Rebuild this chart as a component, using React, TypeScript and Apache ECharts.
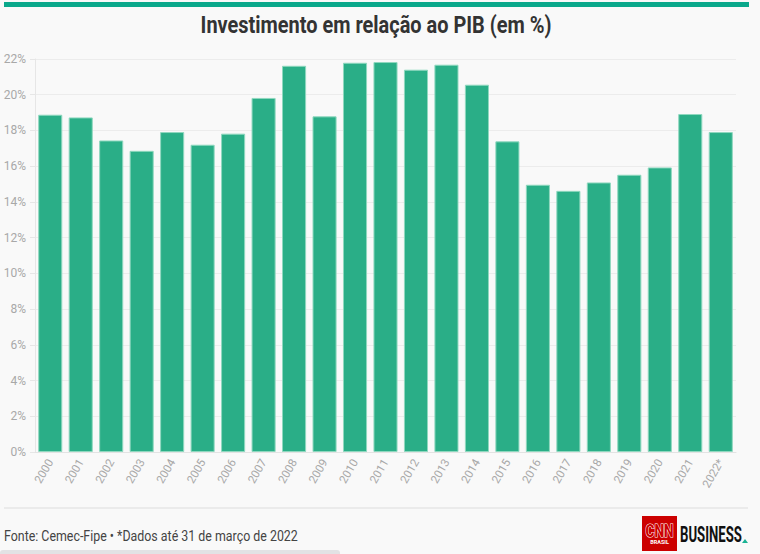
import React, { useEffect, useRef } from "react";
import * as echarts from "echarts";

const years = ["2000","2001","2002","2003","2004","2005","2006","2007","2008","2009","2010","2011","2012","2013","2014","2015","2016","2017","2018","2019","2020","2021","2022*"];
const investment = [18.88,18.73,17.44,16.86,17.91,17.2,17.82,19.82,21.62,18.79,21.79,21.83,21.4,21.68,20.56,17.39,14.96,14.62,15.09,15.52,15.93,18.92,17.91];
const yTicks = { min: 0, max: 22, interval: 2 };
const title = "Investimento em relação ao PIB (em %)";
const footnote = "Fonte: Cemec-Fipe • *Dados até 31 de março de 2022";

function measure(text: string, font: string): number {
  const ctx = document.createElement("canvas").getContext("2d");
  if (!ctx) return 1;
  ctx.font = font;
  return ctx.measureText(text).width || 1;
}

export default function App() {
  const ref = useRef<HTMLDivElement>(null);
  useEffect(() => {
    if (!ref.current) return;
    const chart = echarts.init(ref.current, null, { renderer: "svg" });
    const titleFont = "bold 23px Roboto";
    const footFont = "14px Roboto";
    const bizFont = "bold 22px Roboto";
    const cnnFont = "bold 18px Roboto";
    const titleScale = 351 / measure(title, titleFont);
    const footScale = 294 / measure(footnote, footFont);
    const bizScale = 62 / measure("BUSINESS", bizFont);
    const cnnScale = 28 / measure("CNN", cnnFont);
    chart.setOption({
      animation: false,
      backgroundColor: "#f9f9f9",
      grid: { left: 35, right: 24, top: 59, bottom: 102 },
      xAxis: {
        type: "category",
        data: years,
        axisLine: { lineStyle: { color: "#e3e3e3" } },
        axisTick: { alignWithLabel: true, length: 5, lineStyle: { color: "#e3e3e3" } },
        axisLabel: { rotate: 60, color: "#a8a8a8", fontSize: 11.5, fontFamily: "Roboto", margin: 8 },
      },
      yAxis: {
        type: "value",
        min: yTicks.min,
        max: yTicks.max,
        interval: yTicks.interval,
        axisLine: { show: true, lineStyle: { color: "#e6e6e6" } },
        axisTick: { show: true, length: 5, lineStyle: { color: "#e6e6e6" } },
        axisLabel: { formatter: "{value}%", color: "#a8a8a8", fontSize: 12, fontFamily: "Roboto", margin: 9 },
        splitLine: { lineStyle: { color: "#ececec" } },
      },
      series: [
        {
          type: "bar",
          data: investment,
          barCategoryGap: "21%",
          itemStyle: { color: "#2aae87", borderColor: "#8fd8bf", borderWidth: 1 },
        },
      ],
      graphic: [
        { type: "rect", shape: { x: 4, y: 2, width: 745, height: 5 }, style: { fill: "#0aa88b" } },
        {
          type: "text", x: 376, y: 25, scaleX: titleScale,
          style: { text: title, fill: "#333333", font: titleFont, align: "center", verticalAlign: "middle" },
        },
        { type: "line", shape: { x1: 4, y1: 508, x2: 748, y2: 508 }, style: { stroke: "#dddddd", lineWidth: 1 } },
        {
          type: "text", x: 4, y: 536, scaleX: footScale,
          style: { text: footnote, fill: "#444444", font: footFont, align: "left", verticalAlign: "middle" },
        },
        { type: "rect", shape: { x: 0, y: 550, width: 340, height: 6, r: 3 }, style: { fill: "#e2e2e4" } },
        { type: "rect", shape: { x: 642, y: 516, width: 35, height: 35 }, style: { fill: "#cc0000" } },
        {
          type: "text", x: 659.5, y: 531, scaleX: cnnScale,
          style: { text: "CNN", fill: "#cc0000", stroke: "#ffffff", lineWidth: 1.2, font: cnnFont, align: "center", verticalAlign: "middle" },
        },
        {
          type: "text", x: 659.5, y: 541.5,
          style: { text: "BRASIL", fill: "#ffffff", font: "bold 5.5px Roboto", align: "center", verticalAlign: "middle" },
        },
        {
          type: "text", x: 680, y: 534, scaleX: bizScale,
          style: { text: "BUSINESS", fill: "#111111", font: bizFont, align: "left", verticalAlign: "middle" },
        },
        { type: "polygon", shape: { points: [[742, 543], [748, 543], [745, 539]] }, style: { fill: "#1ab394" } },
      ],
    });
    return () => chart.dispose();
  }, []);
  return <div ref={ref} style={{ position: "fixed", left: 0, top: 0, width: 760, height: 554 }} />;
}
